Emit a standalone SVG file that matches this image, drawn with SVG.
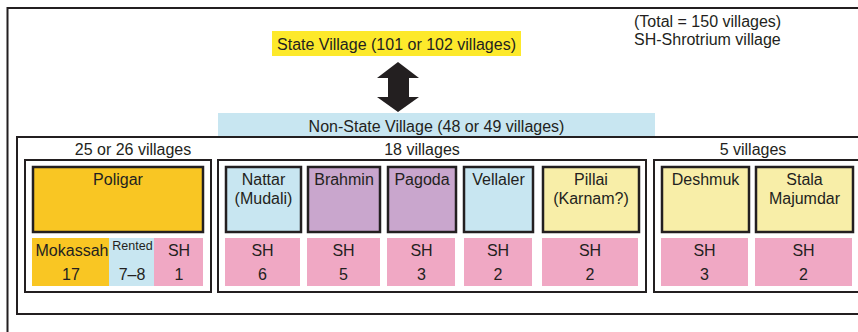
<svg xmlns="http://www.w3.org/2000/svg" width="858" height="332" viewBox="0 0 858 332">
<style>
text{font-family:"Liberation Sans",Arial,sans-serif;fill:#231f20;font-size:16px;text-anchor:middle}
.frame{fill:none;stroke:#231f20;stroke-width:2}
.node{stroke:#231f20;stroke-width:2.5}
.gold{fill:#f9c623}
.blue{fill:#c8e6f1}
.purple{fill:#c9a6cd}
.pale{fill:#f8eea8}
.pink{fill:#f0a8c4}
.yellow{fill:#fde92b}
</style>
<rect width="858" height="332" fill="#fff"/>
<path class="frame" d="M7.5 332 V8 H858"/>
<g id="state">
<rect class="yellow" x="272" y="31" width="249" height="25"/>
<text x="396.5" y="49.5">State Village (101 or 102 villages)</text>
</g>
<g id="connectors">
<polygon fill="#231f20" points="398,62 419,78 409,78 409,97 419,97 398,112 377,97 388,97 388,78 377,78"/>
</g>
<g id="legend">
<text x="634" y="26.5" style="text-anchor:start">(Total = 150 villages)</text>
<text x="634" y="45" style="text-anchor:start">SH-Shrotrium village</text>
</g>
<g id="nonstate">
<rect class="blue" x="218" y="113" width="437" height="24"/>
<text x="436.5" y="132">Non-State Village (48 or 49 villages)</text>
<path class="frame" d="M858 137 H17 V314 H858"/>
</g>
<g id="group1">
<text x="133" y="155">25 or 26 villages</text>
<rect class="frame" x="25" y="160" width="186" height="132"/>
<g id="poligar">
<rect class="gold node" x="33" y="167" width="170" height="65"/>
<text x="118" y="185">Poligar</text>
</g>
<g id="mokassah">
<rect class="gold" x="32" y="238" width="77" height="48"/>
<text x="72" y="256">Mokassah</text>
<text x="71" y="280">17</text>
</g>
<g id="rented">
<rect class="blue" x="109" y="238" width="45" height="48"/>
<text x="132.5" y="250" style="font-size:12.5px">Rented</text>
<text x="132" y="280">7–8</text>
</g>
<g id="sh1">
<rect class="pink" x="154" y="238" width="49" height="48"/>
<text x="179" y="256">SH</text>
<text x="179" y="280">1</text>
</g>
</g>
<g id="group2">
<text x="422" y="155">18 villages</text>
<rect class="frame" x="218" y="160" width="428" height="132"/>
<g id="nattar">
<rect class="blue node" x="226" y="167" width="75" height="65"/>
<text x="263.5" y="185">Nattar</text>
<text x="263.5" y="204">(Mudali)</text>
<rect class="pink" x="225" y="238" width="75" height="48"/>
<text x="262.5" y="256">SH</text>
<text x="262.5" y="280">6</text>
</g>
<g id="brahmin">
<rect class="purple node" x="308" y="167" width="72" height="65"/>
<text x="344" y="185">Brahmin</text>
<rect class="pink" x="307" y="238" width="73" height="48"/>
<text x="343.5" y="256">SH</text>
<text x="343.5" y="280">5</text>
</g>
<g id="pagoda">
<rect class="purple node" x="388" y="167" width="68" height="65"/>
<text x="422" y="185">Pagoda</text>
<rect class="pink" x="387" y="238" width="68" height="48"/>
<text x="421.5" y="256">SH</text>
<text x="421.5" y="280">3</text>
</g>
<g id="vellaler">
<rect class="blue node" x="464" y="167" width="69" height="65"/>
<text x="498.5" y="185">Vellaler</text>
<rect class="pink" x="464" y="238" width="68" height="48"/>
<text x="498" y="256">SH</text>
<text x="498" y="280">2</text>
</g>
<g id="pillai">
<rect class="pale node" x="543" y="167" width="96" height="65"/>
<text x="591" y="185">Pillai</text>
<text x="591" y="204">(Karnam?)</text>
<rect class="pink" x="542" y="238" width="96" height="48"/>
<text x="590" y="256">SH</text>
<text x="590" y="280">2</text>
</g>
</g>
<g id="group3">
<text x="753" y="155">5 villages</text>
<path class="frame" d="M858 160 H654 V292 H858"/>
<g id="deshmuk">
<rect class="pale node" x="662" y="167" width="87" height="65"/>
<text x="705.5" y="185">Deshmuk</text>
<rect class="pink" x="661" y="238" width="87" height="48"/>
<text x="704.5" y="256">SH</text>
<text x="704.5" y="280">3</text>
</g>
<g id="stala">
<rect class="pale node" x="756" y="167" width="97" height="65"/>
<text x="804.5" y="185">Stala</text>
<text x="804.5" y="204">Majumdar</text>
<rect class="pink" x="755" y="238" width="97" height="48"/>
<text x="803.5" y="256">SH</text>
<text x="803.5" y="280">2</text>
</g>
</g>
</svg>
